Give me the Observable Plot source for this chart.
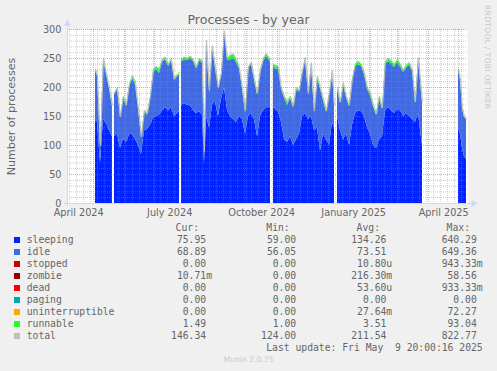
<!DOCTYPE html>
<html><head><meta charset="utf-8">
<script src="https://cdn.jsdelivr.net/npm/d3@7"></script>
<script src="https://cdn.jsdelivr.net/npm/@observablehq/plot@0.6"></script>
<style>
html,body{margin:0;padding:0;background:#f0f0f0;}
body{width:497px;height:371px;position:relative;overflow:hidden;font-family:"DejaVu Sans",sans-serif;color:#666;}
.abs{position:absolute;white-space:pre;}
#title{left:0;width:497px;top:11px;height:18px;line-height:18px;text-align:center;font-size:12.6px;}
#chart{position:absolute;left:0;top:22px;}
.leg{font-family:"DejaVu Sans Mono",monospace;font-size:9.72px;line-height:12px;height:12px;}
.sw{position:absolute;width:6px;height:6px;}
#rrd{left:482px;top:5px;writing-mode:vertical-rl;font-size:7.6px;color:#c8c8c8;letter-spacing:0.3px;line-height:10px;}
#munin{left:0;width:497px;text-align:center;font-size:7.6px;color:#c8c8c8;line-height:12px;}
</style></head><body>
<div id="title" class="abs">Processes - by year</div>
<div id="rrd" class="abs">RRDTOOL / TOBI OETIKER</div>
<div id="chart"></div>
<div id="legend"></div>
<script>
// ---- data (day offsets from 2024-04-04 20:00 UTC, the left edge of the graph) ----
const dayOffset = [28,30,33,36,39,42,45, 46,
  47,50,53,56,59,62,65,68,71,74,77,80,83,86,89,92,95,98,101,104,107,110,112, 113,
  114,117,120,123,126,129,132,135,137,139,142,145,148,151,154,157,160,163,166,169,172,175,178,181,184,187,190,193,196,199,203, 204,
  206,208,211,214,217,220,223,226,229,232,235,238,241,244,247,250,253,256,259,262,265,267, 268,
  270,273,276,279,282,285,288,291,294,297,300,303,306,309,312,315,318,321,324,327,330,333,336,339,342,345,348,351,355, 370,
  391,393,395,397,399];
const sleeping = [143,140,70,145,138,125,115, null,
  115,120,95,112,105,118,120,110,100,85,125,128,135,148,150,152,160,165,160,165,150,155,158, null,
  170,172,170,168,160,155,158,152,70,150,130,170,175,150,180,200,160,150,145,140,150,145,120,150,155,145,115,150,160,165,165, null,
  165,162,158,140,110,105,115,100,110,120,150,155,145,150,125,130,90,120,110,100,140,130, null,
  150,125,110,120,100,135,155,160,158,150,130,120,100,95,110,115,160,165,160,155,162,160,150,155,150,145,140,155,100, null,
  130,120,95,80,76];
const idle = [86,79,28,101,84,72,52, null,
  72,77,53,70,62,83,96,94,62,28,32,24,47,78,81,72,84,83,76,81,62,63,64, null,
  74,75,76,82,85,77,88,90,18,129,62,99,57,47,42,95,86,97,105,103,82,52,37,82,85,67,72,76,84,89,78, null,
  70,70,73,57,72,64,66,65,87,72,75,93,42,89,32,87,107,57,47,87,87,37, null,
  47,47,94,62,67,77,82,79,78,72,67,65,67,57,70,47,80,79,81,79,81,75,76,78,89,82,32,94,72, null,
  99,92,68,68,69];
const runnable = [3,3,2,4,3,3,3, null,
  3,3,2,3,3,4,4,6,3,2,3,3,3,4,5,8,4,4,4,4,3,4,4, null,
  4,5,4,4,3,3,4,4,2,3,3,3,3,3,3,3,4,8,8,5,3,3,3,3,3,3,3,4,6,4,5, null,
  5,6,5,3,3,6,4,3,3,3,3,4,3,4,3,3,3,3,3,3,3,3, null,
  3,3,4,3,3,3,3,6,4,3,3,5,3,3,5,3,5,6,5,6,5,5,4,5,4,3,3,3,3, null,
  3,3,2,2,1.5];
const total = [232,222,100,250,225,200,170, null,
  190,200,150,185,170,205,220,210,165,115,160,155,185,230,236,232,248,252,240,250,215,222,226, null,
  248,252,250,254,248,235,250,246,90,282,195,272,235,200,225,298,250,255,258,248,235,200,160,235,243,215,190,230,250,258,248, null,
  240,238,236,200,185,175,185,168,200,195,228,252,190,243,160,220,200,180,160,190,230,170, null,
  200,175,208,185,170,215,240,245,240,225,200,190,170,155,185,165,245,250,246,240,248,240,230,238,243,230,175,252,175, null,
  232,215,165,150,146];

// axis labels
const yTicks = [0,50,100,150,200,250,300];
const xLabelDates = ["2024-04-16","2024-07-16","2024-10-16","2025-01-16","2025-04-16"];
const xLabels = ["April 2024","July 2024","October 2024","January 2025","April 2025"];

// legend
const seriesNames = ["sleeping","idle","stopped","zombie","dead","paging","uninterruptible","runnable","total"];
const seriesColors = ["#0022ff","#4169e1","#cc0000","#990000","#ff0000","#00aaaa","#ffa500","#22ff22","#c0c0c0"];
const curVals = ["75.95","68.89","0.00","10.71m","0.00","0.00","0.00","1.49","146.34"];
const minVals = ["59.00","56.05","0.00","0.00","0.00","0.00","0.00","1.00","124.00"];
const avgVals = ["134.26","73.51","10.80u","216.30m","53.60u","0.00","27.64m","3.51","211.54"];
const maxVals = ["640.29","649.36","943.33m","58.56","933.33m","0.00","72.27","93.04","822.77"];
const lastUpdate = "Last update: Fri May  9 20:00:16 2025";
const version = "Munin 2.0.75";

// ---- chart ----
const start = new Date(Date.UTC(2024,3,4,20));
const end = new Date(Date.UTC(2025,4,9,20));
const DAY = 864e5;
const num = v => v == null ? NaN : v;
const rows = dayOffset.map((t,k) => ({
  date: new Date(+start + t*DAY),
  s: num(sleeping[k]), i: num(idle[k]), r: num(runnable[k]), tot: num(total[k])
}));
const minorY = d3.range(10,300,10).filter(v => v % 50 !== 0);
const majorY = [50,100,150,200,250,300];
const majorX = d3.utcMonth.range(start, end);
const minorX = d3.utcSunday.range(start, end).filter(d => d.getUTCDate() !== 1);
const gridMinor = {stroke:"#8f8f8f", strokeOpacity:0.45, strokeDasharray:"1,1"};
const gridMajor = {stroke:"#de5050", strokeOpacity:0.55, strokeDasharray:"1,1"};
const axisCol = "#cfd6f8";

const chart = Plot.plot({
  width: 497, height: 203,
  marginTop: 7, marginBottom: 22, marginLeft: 67, marginRight: 30,
  style: {background:"transparent", fontFamily:"DejaVu Sans", fontSize:"9.72px", color:"#666", overflow:"visible"},
  x: {type:"utc", domain:[start,end], axis:null},
  y: {domain:[0,300], axis:null},
  marks: [
    Plot.frame({fill:"white", stroke:"none"}),
    Plot.areaY(rows, {x:"date", y1: d => isNaN(d.s) ? NaN : 0, y2: d => d.s, fill: seriesColors[0]}),
    Plot.areaY(rows, {x:"date", y1: d => d.s, y2: d => d.s + d.i, fill: seriesColors[1]}),
    Plot.areaY(rows, {x:"date", y1: d => d.s + d.i, y2: d => d.s + d.i + d.r, fill: seriesColors[7]}),
    Plot.lineY(rows, {x:"date", y:"tot", stroke: seriesColors[8], strokeWidth:1}),
    Plot.ruleY(minorY, {y: d => d, ...gridMinor}),
    Plot.ruleX(minorX, {x: d => d, ...gridMinor}),
    Plot.ruleY(majorY, {y: d => d, ...gridMajor}),
    Plot.ruleX(majorX, {x: d => d, ...gridMajor}),
    Plot.ruleY([0], {y: d => d, stroke: axisCol, insetLeft:-3, insetRight:-4}),
    Plot.ruleX([start], {x: d => d, stroke: axisCol, insetTop:-4, insetBottom:-3}),
    Plot.dot([300], {x: () => start, y: d => d, symbol:"triangle", r:2.6, fill: axisCol, stroke:"none", dy:-6}),
    Plot.dot([0], {x: () => end, y: d => d, symbol:"triangle", r:2.6, fill: axisCol, stroke:"none", rotate:90, dx:6}),
    Plot.text(yTicks, {y: d => d, text: d => String(d), frameAnchor:"left", textAnchor:"end", dx:-6, fill:"#666"}),
    Plot.text(xLabelDates, {x: d => new Date(d + "T00:00Z"), text: (d,i) => xLabels[i], frameAnchor:"bottom", lineAnchor:"middle", dy:9.5, fill:"#666"}),
    Plot.text(["Number of processes"], {text: d => d, frameAnchor:"left", textAnchor:"middle", lineAnchor:"middle", rotate:-90, dx:-56, fontSize:11.1, fill:"#666"})
  ]
});
document.getElementById("chart").appendChild(chart);

// ---- legend ----
const L = document.getElementById("legend");
function add(cls, text, style) {
  const d = document.createElement("div");
  d.className = "abs " + cls;
  d.textContent = text;
  Object.assign(d.style, style);
  L.appendChild(d);
  return d;
}
const headCenter = 227.7, rowStep = 12;
const numEdges = [212, 302, 392.2, 482.6];
const headEdges = [199, 289.7, 380, 470];
["Cur:","Min:","Avg:","Max:"].forEach((h,k) => add("leg", h, {right:(497-headEdges[k])+"px", top:(headCenter-6)+"px"}));
const fmt = v => /[a-z]$/.test(v) ? v : v + " ";
seriesNames.forEach((name,k) => {
  const c = headCenter + rowStep*(k+1);
  const sw = document.createElement("div");
  sw.className = "sw";
  Object.assign(sw.style, {left:"14px", top:(c-3)+"px", background: seriesColors[k]});
  L.appendChild(sw);
  add("leg", name, {left:"26.7px", top:(c-6)+"px"});
  [curVals,minVals,avgVals,maxVals].forEach((arr,j) => add("leg", fmt(arr[k]), {right:(497-numEdges[j])+"px", top:(c-6)+"px"}));
});
add("leg", lastUpdate, {right:(497-482.7)+"px", top:(headCenter + rowStep*10 - 6)+"px"});
const m = add("", version, {top:(headCenter + rowStep*11 - 6)+"px"});
m.id = "munin";
</script>
</body></html>
